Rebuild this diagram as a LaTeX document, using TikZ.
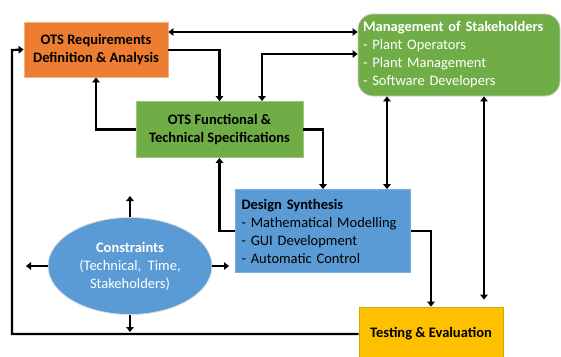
\documentclass[tikz,border=0pt]{standalone}
\usepackage{fontspec}
\setmainfont{Carlito}
\usetikzlibrary{shapes.geometric,arrows.meta}
\definecolor{cOrange}{HTML}{ED7D31}
\definecolor{cGreen}{HTML}{70AD47}
\definecolor{cBlue}{HTML}{5B9BD5}
\definecolor{cYellow}{HTML}{FFC000}
\tikzset{
  box/.style={rectangle, inner sep=0pt, line width=0.8bp, font=\fontsize{14.5bp}{18bp}\selectfont, align=center},
  arr/.style={line width=2.2bp, -{Triangle[width=7.5bp,length=5bp]}},
  dbl/.style={line width=2.2bp, {Triangle[width=7.5bp,length=5bp]}-{Triangle[width=7.5bp,length=5bp]}},
}
\begin{document}
\begin{tikzpicture}[x=1bp,y=-1bp]
\useasboundingbox (0,0) rectangle (561,356);
\clip (0,0) rectangle (561,356);
% nodes
\node[box, fill=cOrange, draw=cOrange!60!white, minimum width=144bp, minimum height=55bp] (req) at (96,49.5)
  {\textbf{OTS Requirements}\\\textbf{Definition \& Analysis}};
\node[box, fill=cGreen, draw=gray!40, rounded corners=15bp, minimum width=202bp, minimum height=82bp,
  text width=192bp, align=left, text=white] (mgmt) at (459,55)
  {\textbf{Management of Stakeholders}\\- Plant Operators\\- Plant Management\\- Software Developers};
\node[box, fill=cGreen, draw=cGreen!70!white, minimum width=167bp, minimum height=56bp] (func) at (219.5,129.5)
  {\textbf{OTS Functional \&}\\\textbf{Technical Specifications}};
\node[box, fill=cBlue, draw=cBlue!80!white, minimum width=175bp, minimum height=83bp,
  text width=163bp, align=left] (des) at (323,231)
  {\textbf{Design Synthesis}\\- Mathematical Modelling\\- GUI Development\\- Automatic Control};
\node[box, ellipse, fill=cBlue, draw=gray!30, minimum width=164bp, minimum height=97bp, text=white] (con) at (130,266)
  {\textbf{Constraints}\\(Technical,\ \ Time,\\Stakeholders)};
\node[box, fill=cYellow, draw=cYellow!85!black, minimum width=144bp, minimum height=54bp] (test) at (431,334)
  {\textbf{Testing \& Evaluation}};
% helper coordinates
\coordinate (lft) at (12,50);
\coordinate (cu) at (130,196);
\coordinate (cd) at (130,332);
\coordinate (cl) at (26,266);
\coordinate (cr) at (229,266);
% connectors
\draw[dbl] (req.east |- 0,32) -- (mgmt.west |- 0,32);
\draw[arr] (req.east |- 0,50) -| (func.north);
\draw[dbl] (mgmt.west |- 0,54) -| (func.north -| 262,0);
\draw[arr] (func.west) -| (req.south);
\draw[arr] (func.east) -| (des.north -| 323,0);
\draw[dbl] (mgmt.south -| 387,0) -- (des.north -| 387,0);
\draw[arr] (des.west) -| (func.south);
\draw[arr] (des.east) -| (test.north);
\draw[dbl] (mgmt.south -| 484,0) -- ([yshift=7bp]test.north -| 484,0);
\draw[arr] (test.west) -| (lft) -- (req.west);
\draw[arr] (con.north) -- (cu);
\draw[arr] (con.south) -- (cd);
\draw[arr] (con.west) -- (cl);
\draw[arr] (con.east) -- (cr);
\end{tikzpicture}
\end{document}
